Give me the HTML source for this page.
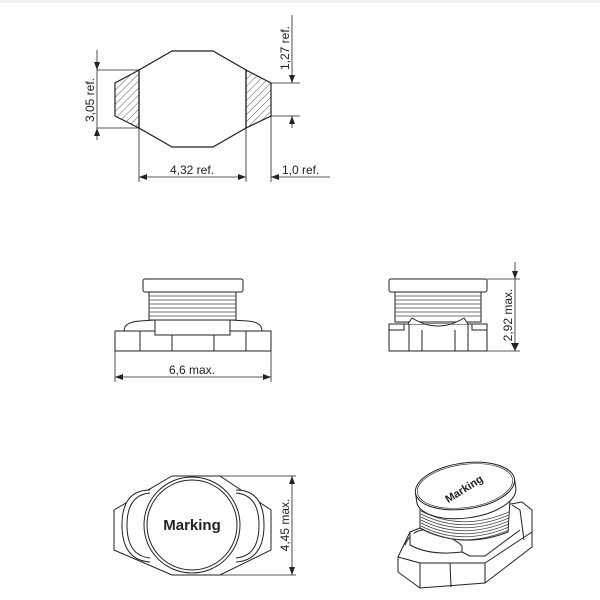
<!DOCTYPE html>
<html><head><meta charset="utf-8"><style>
html,body{margin:0;padding:0;background:#fff}
svg{display:block}
text{font-family:"Liberation Sans",sans-serif;fill:#222}
</style></head><body>
<svg width="600" height="600" viewBox="0 0 600 600" xmlns="http://www.w3.org/2000/svg">
<defs>
<pattern id="h" width="5" height="5" patternUnits="userSpaceOnUse" patternTransform="rotate(45)">
<line x1="0" y1="0" x2="0" y2="5" stroke="#333" stroke-width="0.8"/></pattern>
<marker id="a" markerWidth="8" markerHeight="6" refX="8" refY="3" orient="auto-start-reverse" markerUnits="userSpaceOnUse">
<path d="M0,0 L8,3 L0,6 z" fill="#222"/></marker>
</defs>
<rect x="0" y="0" width="600" height="3" fill="#f2f2f2"/>
<g stroke="#222" stroke-width="1.2" fill="none">
<polygon points="172,51 213,51 246,70 246,128 213,147 172,147 139,128 139,70" fill="#fff"/>
<polygon points="139,70 115,83 115,116 139,128" fill="url(#h)"/>
<polygon points="246,70 271,83 271,116 246,128" fill="url(#h)"/>
</g>
<g stroke="#222" stroke-width="0.8" fill="none">
<line x1="97" y1="70" x2="139" y2="70"/><line x1="97" y1="128" x2="139" y2="128"/>
<line x1="97" y1="50" x2="97" y2="70" marker-end="url(#a)"/>
<line x1="97" y1="140" x2="97" y2="128" marker-end="url(#a)"/>
<line x1="97" y1="70" x2="97" y2="128"/>
<line x1="271" y1="83" x2="300" y2="83"/><line x1="271" y1="116" x2="300" y2="116"/>
<line x1="292" y1="15" x2="292" y2="83" marker-end="url(#a)"/>
<line x1="292" y1="128" x2="292" y2="116" marker-end="url(#a)"/>
<line x1="139" y1="128" x2="139" y2="182"/><line x1="246" y1="128" x2="246" y2="182"/>
<line x1="139" y1="177" x2="246" y2="177" marker-start="url(#a)" marker-end="url(#a)"/>
<line x1="271" y1="116" x2="271" y2="182"/>
<line x1="330" y1="177" x2="271" y2="177" marker-end="url(#a)"/>
</g>
<text x="192" y="174" font-size="12" text-anchor="middle">4,32  ref.</text>
<text x="282" y="174" font-size="12">1,0  ref.</text>
<text transform="translate(94,100) rotate(-90)" font-size="12" text-anchor="middle">3,05  ref.</text>
<text transform="translate(289,48) rotate(-90)" font-size="12" text-anchor="middle">1,27  ref.</text>

<g stroke="#222" stroke-width="1" fill="#fff">
<path d="M124,331 Q124,322 140,321 L155,320 L230,320 L248,321 Q262,322 262,331 Z"/>
<rect x="115" y="331" width="156" height="20"/>
<line x1="140" y1="331" x2="140" y2="351"/><line x1="172" y1="335" x2="172" y2="351"/>
<line x1="214" y1="335" x2="214" y2="351"/><line x1="246" y1="331" x2="246" y2="351"/>
<rect x="155" y="320" width="75" height="15"/>
<rect x="149" y="292" width="87" height="28"/>
<rect x="143" y="279" width="100" height="13" rx="2"/>
</g>
<g stroke="#444" stroke-width="0.8">
<line x1="149" y1="296" x2="236" y2="296"/><line x1="149" y1="300" x2="236" y2="300"/>
<line x1="149" y1="304" x2="236" y2="304"/><line x1="149" y1="308" x2="236" y2="308"/>
<line x1="149" y1="312" x2="236" y2="312"/><line x1="149" y1="316" x2="236" y2="316"/>
</g>
<g stroke="#222" stroke-width="0.8" fill="none">
<line x1="115" y1="351" x2="115" y2="382"/><line x1="271" y1="351" x2="271" y2="382"/>
<line x1="115" y1="377" x2="271" y2="377" marker-start="url(#a)" marker-end="url(#a)"/>
</g>
<text x="192" y="374" font-size="12" text-anchor="middle">6,6  max.</text>

<g stroke="#222" stroke-width="1" fill="#fff">
<rect x="389" y="324" width="98" height="27"/>
<path d="M389,330 L404,330 L404,324 M487,330 L472,330 L472,324"/>
<line x1="409" y1="324" x2="409" y2="351"/><line x1="422" y1="330" x2="422" y2="351"/>
<line x1="455" y1="330" x2="455" y2="351"/><line x1="468" y1="324" x2="468" y2="351"/>
<rect x="395" y="292" width="86" height="30"/>
<path d="M408,324 L412,318 Q438,334 464,318 L468,324" fill="#fff"/>
<rect x="389" y="279" width="98" height="13" rx="2"/>
</g>
<g stroke="#444" stroke-width="0.8">
<line x1="395" y1="296" x2="481" y2="296"/><line x1="395" y1="300" x2="481" y2="300"/>
<line x1="395" y1="304" x2="481" y2="304"/><line x1="395" y1="308" x2="481" y2="308"/>
<line x1="395" y1="312" x2="481" y2="312"/><line x1="395" y1="316" x2="481" y2="316"/>
</g>
<g stroke="#222" stroke-width="0.8" fill="none">
<line x1="487" y1="279" x2="520" y2="279"/><line x1="487" y1="351" x2="520" y2="351"/>
<line x1="515" y1="262" x2="515" y2="279" marker-end="url(#a)"/>
<line x1="515" y1="279" x2="515" y2="351"/>
</g>
<path d="M511,343 L515,351 L519,343 z" fill="#222"/>
<text transform="translate(512,315) rotate(-90)" font-size="12" text-anchor="middle">2,92  max.</text>

<g stroke="#222" stroke-width="1" fill="#fff">
<polygon points="172,476 220,476 271,510 271,550 220,575 172,575 114,550 114,510"/>
<path d="M150,490 Q122,490 122,525 Q122,560 150,562"/>
<path d="M236,490 Q264,490 264,525 Q264,560 236,562"/>
<path d="M150,493 Q127,495 127,525 Q127,556 150,558"/>
<path d="M236,493 Q259,495 259,525 Q259,556 236,558"/>
<circle cx="192" cy="525" r="48"/>
<circle cx="192" cy="525" r="45"/>
</g>
<text x="192" y="530" font-size="15" font-weight="bold" text-anchor="middle">Marking</text>
<g stroke="#222" stroke-width="0.8" fill="none">
<line x1="220" y1="476" x2="296" y2="476"/><line x1="220" y1="575" x2="296" y2="575"/>
<line x1="292" y1="476" x2="292" y2="575" marker-start="url(#a)" marker-end="url(#a)"/>
</g>
<text transform="translate(289,525) rotate(-90)" font-size="12" text-anchor="middle">4,45  max.</text>

<!-- 3D view -->
<g stroke="#222" stroke-width="1" fill="#fff" stroke-linejoin="round">
<polygon points="398,557 410,532 440,520 505,505 522,502 532,510 532,547 485,583 420,588 398,572"/>
<path d="M398,557 L420,563 L485,563 L532,532"/>
<line x1="420" y1="563" x2="420" y2="588"/><line x1="485" y1="563" x2="485" y2="583"/>
<line x1="450" y1="563" x2="451" y2="587"/>
<path d="M405,545 Q412,528 430,530 Q455,538 462,546 L462,552 L470,556 L485,556 L520,530"/>
<path d="M410,532 L410,545 Q430,556 462,552"/>
<path d="M420,505 L420,528 Q462,550 508,532 L510,500 Z"/>
<path d="M512,505 L520,510 L524,540"/>
</g>
<g stroke="#444" stroke-width="0.8" fill="none">
<path d="M421,511 Q462,532 509,512"/><path d="M421,514 Q462,535 509,515"/>
<path d="M421,517 Q462,538 509,518"/><path d="M421,520 Q462,541 509,521"/>
<path d="M421,523 Q462,544 509,524"/><path d="M421,526 Q462,547 509,527"/>
<path d="M421,529 Q462,550 509,530"/>
</g>
<g transform="rotate(-8 465 486)" stroke="#222" stroke-width="1" fill="#fff">
<path d="M415,486 L415,495 A50,23 0 0 0 515,495 L515,486 Z"/>
<ellipse cx="465" cy="486" rx="50" ry="23"/>
<ellipse cx="465" cy="486" rx="48" ry="21.5" fill="none" stroke-width="0.6"/>
</g>
<text transform="translate(466,492) rotate(-32)" font-size="11" font-weight="bold" text-anchor="middle">Marking</text>
</svg>
</body></html>
